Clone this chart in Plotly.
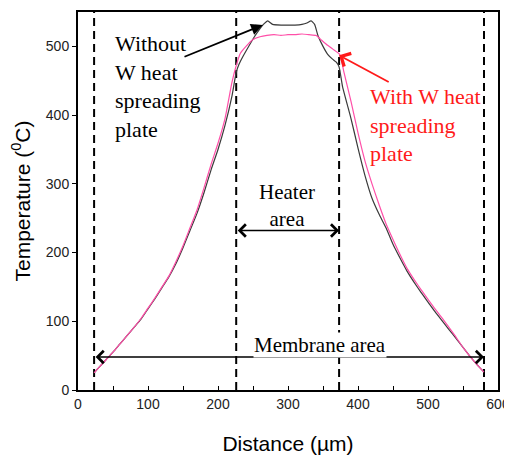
import plotly.graph_objects as go

# Distance (um) sample positions
dist_with = [23, 30, 40, 50, 60, 70, 80, 90, 100, 110, 120, 130, 140, 150, 160, 170, 180, 190, 200,
             210, 220, 226, 232, 240, 250, 260, 270, 280, 290, 300, 310, 320, 330, 340, 348, 356,
             364, 374, 380, 390, 400, 410, 420, 430, 440, 450, 460, 470, 480, 490, 500, 510, 520,
             530, 540, 550, 560, 570, 580]
temp_with = [25, 33, 44, 55, 67, 79, 91, 104, 119, 134, 150, 166, 187, 210, 236, 262, 294, 328, 359,
             395, 448, 472, 490, 500, 510, 514, 516, 517, 516, 517, 517, 518, 517, 516, 509, 502,
             496, 488, 462, 420, 374, 333, 300, 270, 242, 219, 197, 177, 161, 146, 132, 118, 105,
             91, 77, 62, 49, 37, 26]

dist_without = [23, 30, 40, 50, 60, 70, 80, 90, 100, 110, 120, 130, 140, 150, 160, 170, 180, 190, 200,
                210, 220, 226, 230, 236, 245, 252, 258, 266, 271, 278, 290, 300, 310, 320, 327, 333,
                338, 343, 350, 357, 364, 369, 373, 378, 390, 400, 410, 420, 430, 440, 450, 460, 470,
                480, 490, 500, 510, 520, 530, 540, 550, 560, 570, 580]
temp_without = [25, 33, 44, 55, 67, 79, 91, 103, 118, 133, 149, 165, 184, 207, 232, 257, 287, 320, 350,
                385, 428, 462, 474, 486, 502, 514, 523, 533, 537, 532, 531, 531, 531, 532, 534, 537,
                532, 515, 500, 488, 481, 477, 470, 441, 395, 352, 312, 279, 256, 236, 212, 192, 173,
                157, 142, 128, 114, 101, 88, 75, 62, 49, 37, 26]

dashed_x = [23, 226, 373, 580]
heater_span = [226, 373]
heater_arrow_temp = 232
membrane_span = [23, 580]
membrane_arrow_temp = 48

x_ticks = [0, 100, 200, 300, 400, 500, 600]
y_ticks = [0, 100, 200, 300, 400, 500]

serif = "Liberation Serif"
sans = "Liberation Sans"

fig = go.Figure()
fig.add_trace(go.Scatter(x=dist_without, y=temp_without, mode="lines",
                         line=dict(color="#3a3a3a", width=1.2, shape="spline", smoothing=0.5),
                         name="Without W"))
fig.add_trace(go.Scatter(x=dist_with, y=temp_with, mode="lines",
                         line=dict(color="#ff4fa8", width=1.2, shape="spline", smoothing=0.5),
                         name="With W"))

for xv in dashed_x:
    fig.add_shape(type="line", xref="x", yref="y", x0=xv, x1=xv, y0=0, y1=550,
                  line=dict(color="black", width=2, dash="8px,5px"), layer="below")

# Heater area arrow (double-headed)
fig.add_annotation(x=heater_span[1], y=heater_arrow_temp, ax=heater_span[0], ay=heater_arrow_temp,
                   xref="x", yref="y", axref="x", ayref="y", text="", showarrow=True,
                   arrowhead=4, startarrowhead=4, arrowside="end+start", arrowsize=1.6,
                   startarrowsize=1.6, arrowwidth=1.5, arrowcolor="black")
fig.add_annotation(x=298, y=269, xref="x", yref="y", text="Heater<br>area", showarrow=False,
                   font=dict(family=serif, size=21, color="black"), align="center",
                   yanchor="middle")

# Membrane area arrow
fig.add_annotation(x=membrane_span[1], y=membrane_arrow_temp, ax=membrane_span[0], ay=membrane_arrow_temp,
                   xref="x", yref="y", axref="x", ayref="y", text="", showarrow=True,
                   arrowhead=4, startarrowhead=4, arrowside="end+start", arrowsize=1.6,
                   startarrowsize=1.6, arrowwidth=1.5, arrowcolor="black")
fig.add_annotation(x=345, y=66, xref="x", yref="y", text="Membrane area", showarrow=False,
                   font=dict(family=serif, size=21, color="black"), bgcolor="white",
                   borderpad=0)

# Without W label + arrow
fig.add_annotation(x=50, y=441, xref="x", yref="y", text="Without<br>W heat<br>spreading<br>plate",
                   showarrow=False, xanchor="left", yanchor="middle", align="left",
                   font=dict(family=serif, size=22, color="black"))
fig.add_annotation(x=264, y=531, ax=150, ay=484, xref="x", yref="y", axref="x", ayref="y",
                   text="", showarrow=True, arrowhead=2, arrowsize=1.3, arrowwidth=1.8,
                   arrowcolor="black")

# With W label + arrow
fig.add_annotation(x=414, y=385, xref="x", yref="y", text="With W heat<br>spreading<br>plate",
                   showarrow=False, xanchor="left", yanchor="middle", align="left",
                   font=dict(family=serif, size=22, color="#ff1a1a"))
fig.add_annotation(x=373, y=487, ax=446, ay=447, xref="x", yref="y", axref="x", ayref="y",
                   text="", showarrow=True, arrowhead=4, arrowsize=1.6, arrowwidth=1.8,
                   arrowcolor="#ff1a1a")

fig.update_xaxes(range=[0, 600], tickvals=x_ticks, ticks="inside", ticklen=4, tickcolor="black",
                 minor=dict(dtick=50, ticks="inside", ticklen=4, tickcolor="black"),
                 showline=True, linecolor="black", linewidth=2, mirror=True, showgrid=False,
                 zeroline=False, automargin=False,
                 tickfont=dict(family=sans, size=14, color="#222"),
                 title=dict(text="Distance (µm)", font=dict(family=sans, size=21, color="black"),
                            standoff=26))
fig.update_yaxes(range=[0, 550], tickvals=y_ticks, ticks="outside", ticklen=4, tickcolor="black",
                 showline=True, linecolor="black", linewidth=2, mirror=True, showgrid=False,
                 zeroline=False, automargin=False,
                 tickfont=dict(family=sans, size=14, color="#222"),
                 title=dict(text="Temperature (<sup>0</sup>C)",
                            font=dict(family=sans, size=21, color="black"), standoff=16))

# The page body adds an 8px offset, so the figure is 8px smaller to fit the window.
fig.update_layout(width=504, height=449, margin=dict(l=70, r=14, t=4, b=67),
                  plot_bgcolor="white", paper_bgcolor="white", showlegend=False)

fig.write_html("out.html")
